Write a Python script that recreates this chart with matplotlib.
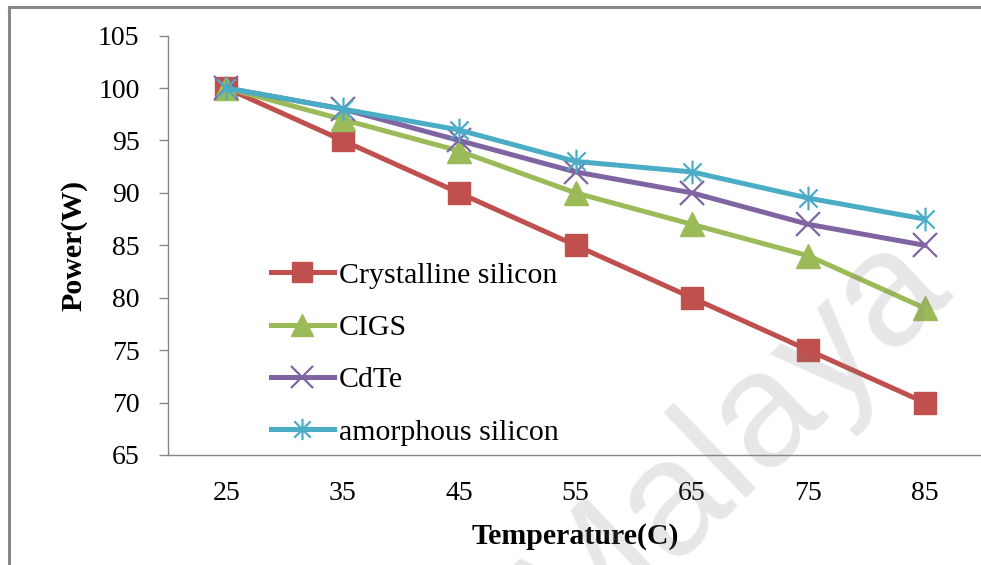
import matplotlib
matplotlib.use("Agg")
import matplotlib.pyplot as plt
from matplotlib.path import Path

# data
temps = ["25", "35", "45", "55", "65", "75", "85"]
crystalline = [100, 95, 90, 85, 80, 75, 70]
cigs = [100, 97, 94, 90, 87, 84, 79]
cdte = [100, 98, 95, 92, 90, 87, 85]
amorphous = [100, 98, 96, 93, 92, 89.5, 87.5]
y_ticks = [65, 70, 75, 80, 85, 90, 95, 100, 105]

plt.rcParams['font.family'] = ['Liberation Serif', 'DejaVu Serif']

W, H = 981, 565
fig = plt.figure(figsize=(W / 100, H / 100), dpi=100)

# excel style asterisk marker: X plus a vertical bar
star = Path([(-1, -1), (1, 1), (-1, 1), (1, -1), (0, -1.3), (0, 1.3)],
            [Path.MOVETO, Path.LINETO, Path.MOVETO, Path.LINETO,
             Path.MOVETO, Path.LINETO])

ax = fig.add_axes([168 / W, 1 - 455 / H, (983 - 168) / W, (455 - 35.6) / H])
x = range(len(temps))

ax.plot(x, crystalline, color='#C0504D', lw=3.6, marker='s', ms=16,
        label='Crystalline silicon')
ax.plot(x, cigs, color='#9BBB59', lw=3.6, marker='^', ms=17,
        label='CIGS')
ax.plot(x, cdte, color='#8064A2', lw=3.6, marker='x', ms=17, mew=1.6,
        label='CdTe')
ax.plot(x, amorphous, color='#4BACC6', lw=3.6, marker=star, ms=17, mew=1.6,
        label='amorphous silicon')

ax.set_xlim(-0.5, len(temps) - 0.5)
ax.set_ylim(65, 105)
ax.set_yticks(y_ticks)
ax.set_xticks(list(x))
ax.set_xticklabels(temps)

for s in ['top', 'right']:
    ax.spines[s].set_visible(False)
for s in ['left', 'bottom']:
    ax.spines[s].set_color('#868686')
    ax.spines[s].set_linewidth(1.0)
ax.tick_params(axis='y', length=6.5, width=1.0, color='#868686', pad=14,
               labelsize=20)
ax.tick_params(axis='x', length=0, pad=19, labelsize=20)

ax.set_xlabel('Temperature(C)', fontsize=21.5, fontweight='bold', labelpad=12)
ax.set_ylabel('Power(W)', fontsize=21.5, fontweight='bold', labelpad=7.5)

leg = ax.legend(loc='upper left', bbox_to_anchor=(271 / W, 1 - 262 / H),
                bbox_transform=fig.transFigure, frameon=False,
                fontsize=21.5, handlelength=2.1, handletextpad=0.17,
                labelspacing=0.85, borderpad=0, borderaxespad=0,
                markerscale=0.9)

# watermark
fig.text(732 / W, 1 - 440 / H, 'Malaya', family='Liberation Sans',
         fontsize=118, rotation=44, ha='center', va='center',
         color='#808080', alpha=0.19, zorder=10)

# outer frame (top and left edges only are visible)
fig.add_artist(plt.Line2D([9 / W, 1], [1 - 7 / H, 1 - 7 / H],
                          transform=fig.transFigure, color='#888888', lw=2.2))
fig.add_artist(plt.Line2D([9 / W, 9 / W], [0, 1 - 7 / H],
                          transform=fig.transFigure, color='#888888', lw=2.2))

fig.savefig('out.png', dpi=100)
